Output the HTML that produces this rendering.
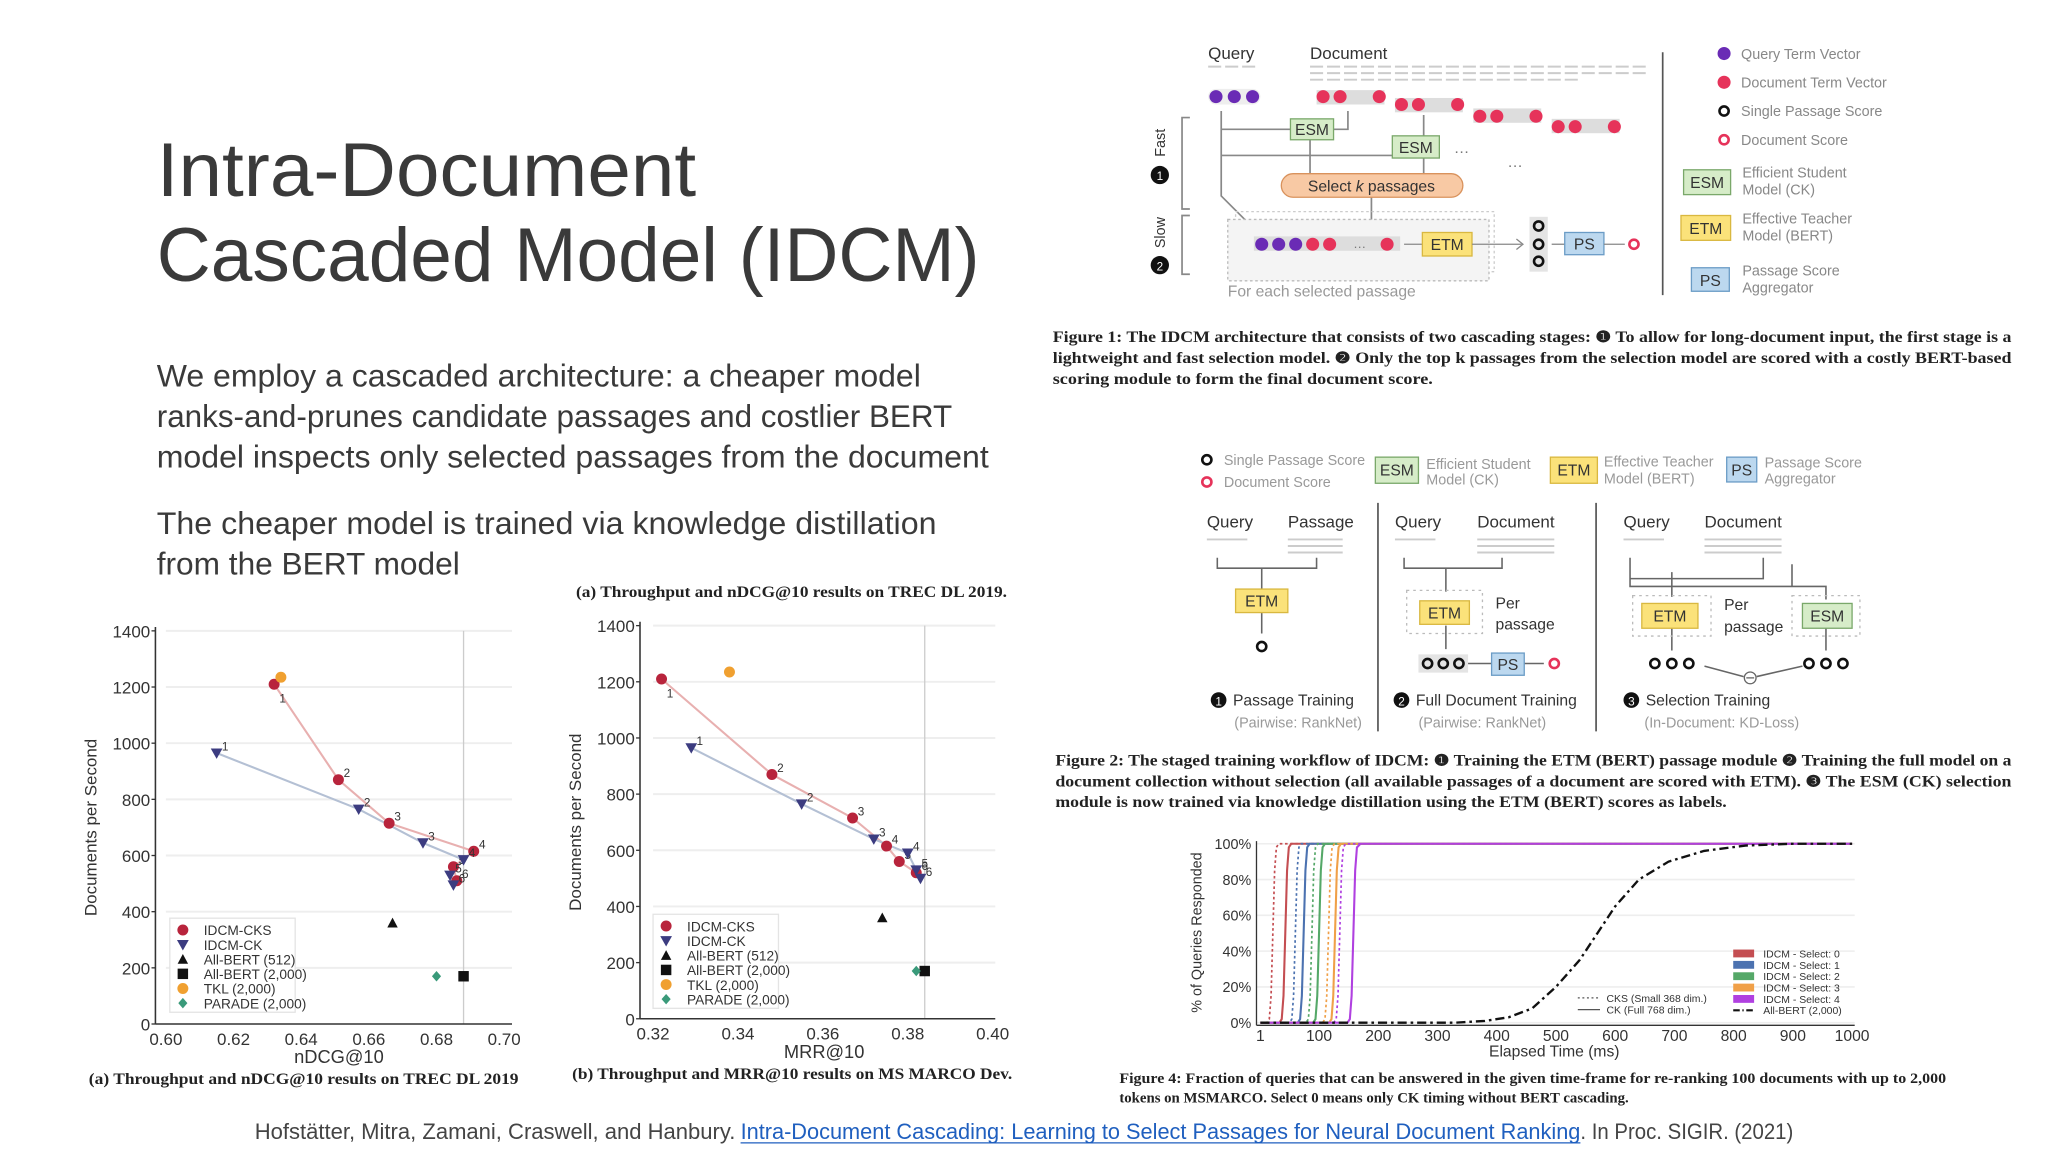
<!DOCTYPE html>
<html><head><meta charset="utf-8">
<style>
html,body{margin:0;padding:0;background:#fff;width:2048px;height:1152px;overflow:hidden}
svg{display:block}
.ss{font-family:"Liberation Sans",sans-serif}
.sf{font-family:"Liberation Serif",serif;font-weight:bold;fill:#222}
.fg{font-family:"Liberation Sans",sans-serif;fill:#777}
.tk{font-family:"Liberation Sans",sans-serif;fill:#333}
</style></head><body>
<svg id="slide" width="2048" height="1152" viewBox="0 0 1568 882" preserveAspectRatio="none" xmlns="http://www.w3.org/2000/svg">
<rect width="1568" height="882" fill="#fff"/>
<g class="ss" fill="#3a3a3a" font-size="58">
<text x="120" y="150" textLength="413" lengthAdjust="spacingAndGlyphs">Intra-Document</text>
<text x="120" y="215" textLength="630" lengthAdjust="spacingAndGlyphs">Cascaded Model (IDCM)</text>
</g>
<g class="ss" fill="#3a3a3a" font-size="24">
<text x="120" y="296" textLength="585" lengthAdjust="spacingAndGlyphs">We employ a cascaded architecture: a cheaper model</text>
<text x="120" y="327" textLength="609" lengthAdjust="spacingAndGlyphs">ranks-and-prunes candidate passages and costlier BERT</text>
<text x="120" y="358" textLength="637" lengthAdjust="spacingAndGlyphs">model inspects only selected passages from the document</text>
<text x="120" y="409" textLength="597" lengthAdjust="spacingAndGlyphs">The cheaper model is trained via knowledge distillation</text>
<text x="120" y="440" textLength="232" lengthAdjust="spacingAndGlyphs">from the BERT model</text>
</g>
<g class="ss" font-size="17" fill="#444">
<text x="195" y="872" textLength="368" lengthAdjust="spacingAndGlyphs">Hofstätter, Mitra, Zamani, Craswell, and Hanbury.</text>
<text x="567" y="872" textLength="643" lengthAdjust="spacingAndGlyphs" fill="#1f5fbf">Intra-Document Cascading: Learning to Select Passages for Neural Document Ranking</text>
<line x1="567" y1="875" x2="1210" y2="875" stroke="#1f5fbf" stroke-width="1"/>
<text x="1210" y="872" textLength="163" lengthAdjust="spacingAndGlyphs">. In Proc. SIGIR. (2021)</text>
</g>

<g id="chart1"></g>
<g id="chart2"></g>
<text class="sf" x="441" y="457" font-size="12" textLength="330" lengthAdjust="spacingAndGlyphs">(a) Throughput and nDCG@10 results on TREC DL 2019.</text>
<text class="sf" x="68" y="830" font-size="12" textLength="329" lengthAdjust="spacingAndGlyphs">(a) Throughput and nDCG@10 results on TREC DL 2019</text>
<text class="sf" x="438" y="826" font-size="12" textLength="337" lengthAdjust="spacingAndGlyphs">(b) Throughput and MRR@10 results on MS MARCO Dev.</text>

<g>
<text class="fg" x="925" y="45" font-size="13" style="fill:#333">Query</text>
<text class="fg" x="1003" y="45" font-size="13" style="fill:#333">Document</text>
<g stroke="#ccc" stroke-width="1.5" stroke-dasharray="10 3">
<line x1="1003" y1="51" x2="1262" y2="51"/><line x1="1003" y1="56" x2="1262" y2="56"/><line x1="1003" y1="61" x2="1210" y2="61"/>
<line x1="925" y1="51" x2="962" y2="51"/></g>
<rect x="925" y="68" width="40" height="12" rx="6" fill="#eee"/>
<circle cx="931" cy="74" r="5" fill="#6a2bb5"/><circle cx="945" cy="74" r="5" fill="#6a2bb5"/><circle cx="959" cy="74" r="5" fill="#6a2bb5"/>
<g fill="#e6335a">
<rect x="1008" y="69" width="52" height="11" fill="#ddd"/><circle cx="1013" cy="74" r="5"/><circle cx="1026" cy="74" r="5"/><circle cx="1056" cy="74" r="5"/>
<rect x="1068" y="75" width="52" height="11" fill="#ddd"/><circle cx="1073" cy="80" r="5"/><circle cx="1086" cy="80" r="5"/><circle cx="1116" cy="80" r="5"/>
<rect x="1128" y="83" width="52" height="11" fill="#ddd"/><circle cx="1133" cy="89" r="5"/><circle cx="1146" cy="89" r="5"/><circle cx="1176" cy="89" r="5"/>
<rect x="1188" y="91" width="52" height="11" fill="#ddd"/><circle cx="1193" cy="97" r="5"/><circle cx="1206" cy="97" r="5"/><circle cx="1236" cy="97" r="5"/>
</g>
<g stroke="#888" stroke-width="1.3" fill="none">
<path d="M935 85 V150 L965 180"/><path d="M935 99 H988 M935 119 H1066 M1032 85 V99 H1021 M1090 88 V104 M1090 121 V133 M1003 133 V107 M1050 151 V175"/>
<path d="M911 90 H905 V160 H911 M911 165 H905 V210 H911"/>
</g>
<rect x="988" y="91" width="33" height="16" fill="#d6ecc8" stroke="#7aa86a"/><text class="fg" x="1004.5" y="103.5" font-size="12" text-anchor="middle" style="fill:#333">ESM</text>
<rect x="1066" y="104" width="36" height="17" fill="#d6ecc8" stroke="#7aa86a"/><text class="fg" x="1084" y="117" font-size="12" text-anchor="middle" style="fill:#333">ESM</text>
<text class="fg" x="1113" y="117" font-size="12">…</text><text class="fg" x="1154" y="128" font-size="12">…</text>
<rect x="981" y="133" width="139" height="18" rx="9" fill="#f8c9a4" stroke="#d9925c"/>
<text class="fg" x="1050" y="146.5" font-size="12" text-anchor="middle" style="fill:#333">Select <tspan font-style="italic">k</tspan> passages</text>
<rect x="946" y="162" width="198" height="46" fill="none" stroke="#ccc" stroke-dasharray="2 2"/>
<rect x="940" y="168" width="200" height="47" fill="#f4f4f4" stroke="#bbb" stroke-dasharray="2 2"/>
<rect x="960" y="181" width="112" height="11" fill="#ddd"/>
<g fill="#6a2bb5"><circle cx="966" cy="187" r="5"/><circle cx="979" cy="187" r="5"/><circle cx="992" cy="187" r="5"/></g>
<g fill="#e6335a"><circle cx="1005" cy="187" r="5"/><circle cx="1018" cy="187" r="5"/><circle cx="1062" cy="187" r="5"/></g>
<text class="fg" x="1036" y="190" font-size="10">…</text>
<line x1="1075" y1="187" x2="1089" y2="187" stroke="#888"/>
<rect x="1089" y="178" width="38" height="18" fill="#fbe27a" stroke="#d9b840"/><text class="fg" x="1108" y="191.5" font-size="12" text-anchor="middle" style="fill:#333">ETM</text>
<line x1="1127" y1="187" x2="1165" y2="187" stroke="#888"/><path d="M1161 183 L1166 187 L1161 191" fill="none" stroke="#888"/>
<rect x="1171" y="166" width="14" height="42" fill="#e4e4e4"/>
<g fill="none" stroke="#111" stroke-width="2"><circle cx="1178" cy="173" r="3.5"/><circle cx="1178" cy="187" r="3.5"/><circle cx="1178" cy="200" r="3.5"/></g>
<line x1="1188" y1="187" x2="1198" y2="187" stroke="#888"/>
<rect x="1198" y="178" width="30" height="17" fill="#bcd8ef" stroke="#6b9cc6"/><text class="fg" x="1213" y="191" font-size="12" text-anchor="middle" style="fill:#333">PS</text>
<line x1="1228" y1="187" x2="1244" y2="187" stroke="#888"/><circle cx="1251" cy="187" r="3.5" fill="none" stroke="#e6335a" stroke-width="2"/>
<text class="fg" x="940" y="227" font-size="12" style="fill:#999">For each selected passage</text>
<circle cx="888" cy="134" r="7" fill="#111"/><text x="888" y="138" font-size="9" fill="#fff" text-anchor="middle" class="ss">1</text>
<text class="fg" transform="translate(892,120) rotate(-90)" font-size="11" style="fill:#333">Fast</text>
<circle cx="888" cy="203" r="7" fill="#111"/><text x="888" y="207" font-size="9" fill="#fff" text-anchor="middle" class="ss">2</text>
<text class="fg" transform="translate(892,190) rotate(-90)" font-size="11" style="fill:#333">Slow</text>
<line x1="1273" y1="40" x2="1273" y2="226" stroke="#555" stroke-width="1.3"/>
<g class="fg" font-size="11" style="fill:#888">
<circle cx="1320" cy="41" r="5" fill="#6a2bb5"/><text x="1333" y="45">Query Term Vector</text>
<circle cx="1320" cy="63" r="5" fill="#e6335a"/><text x="1333" y="67">Document Term Vector</text>
<circle cx="1320" cy="85" r="3.5" fill="none" stroke="#111" stroke-width="2"/><text x="1333" y="89">Single Passage Score</text>
<circle cx="1320" cy="107" r="3.5" fill="none" stroke="#e6335a" stroke-width="2"/><text x="1333" y="111">Document Score</text>
<rect x="1289" y="130" width="36" height="19" fill="#d6ecc8" stroke="#7aa86a"/><text x="1307" y="144" text-anchor="middle" style="fill:#333" font-size="12">ESM</text>
<text x="1334" y="136">Efficient Student</text><text x="1334" y="149">Model (CK)</text>
<rect x="1287" y="165" width="38" height="19" fill="#fbe27a" stroke="#d9b840"/><text x="1306" y="179" text-anchor="middle" style="fill:#333" font-size="12">ETM</text>
<text x="1334" y="171">Effective Teacher</text><text x="1334" y="184">Model (BERT)</text>
<rect x="1295" y="205" width="29" height="18" fill="#bcd8ef" stroke="#6b9cc6"/><text x="1309.5" y="219" text-anchor="middle" style="fill:#333" font-size="12">PS</text>
<text x="1334" y="211">Passage Score</text><text x="1334" y="224">Aggregator</text>
</g>
</g>
<g class="sf" font-size="12">
<text x="806" y="262" textLength="734" lengthAdjust="spacingAndGlyphs">Figure 1: The IDCM architecture that consists of two cascading stages: ❶ To allow for long-document input, the first stage is a</text>
<text x="806" y="278" textLength="734" lengthAdjust="spacingAndGlyphs">lightweight and fast selection model. ❷ Only the top k passages from the selection model are scored with a costly BERT-based</text>
<text x="806" y="294" textLength="291" lengthAdjust="spacingAndGlyphs">scoring module to form the final document score.</text>
</g>

<g class="fg" font-size="11">
<circle cx="924" cy="352" r="3.5" fill="none" stroke="#111" stroke-width="2"/><text x="937" y="356" style="fill:#999">Single Passage Score</text>
<circle cx="924" cy="369" r="3.5" fill="none" stroke="#e6335a" stroke-width="2"/><text x="937" y="373" style="fill:#999">Document Score</text>
<rect x="1053" y="350" width="33" height="20" fill="#d6ecc8" stroke="#7aa86a"/><text x="1069.5" y="364" text-anchor="middle" style="fill:#333" font-size="12">ESM</text>
<text x="1092" y="359" style="fill:#999">Efficient Student</text><text x="1092" y="371" style="fill:#999">Model (CK)</text>
<rect x="1187" y="350" width="36" height="20" fill="#fbe27a" stroke="#d9b840"/><text x="1205" y="364" text-anchor="middle" style="fill:#333" font-size="12">ETM</text>
<text x="1228" y="357" style="fill:#999">Effective Teacher</text><text x="1228" y="370" style="fill:#999">Model (BERT)</text>
<rect x="1322" y="350" width="23" height="19" fill="#bcd8ef" stroke="#6b9cc6"/><text x="1333.5" y="364" text-anchor="middle" style="fill:#333" font-size="12">PS</text>
<text x="1351" y="358" style="fill:#999">Passage Score</text><text x="1351" y="370" style="fill:#999">Aggregator</text>
<line x1="1055" y1="385" x2="1055" y2="560" stroke="#555" stroke-width="1.3"/>
<line x1="1222" y1="385" x2="1222" y2="560" stroke="#555" stroke-width="1.3"/>
<g font-size="13" style="fill:#333">
<text x="924" y="404">Query</text><text x="986" y="404">Passage</text>
<text x="1068" y="404">Query</text><text x="1131" y="404">Document</text>
<text x="1243" y="404">Query</text><text x="1305" y="404">Document</text>
</g>
<g stroke="#ccc" stroke-width="1.5"><line x1="924" y1="413" x2="955" y2="413"/><line x1="986" y1="413" x2="1028" y2="413"/><line x1="986" y1="418" x2="1028" y2="418"/><line x1="986" y1="423" x2="1028" y2="423"/>
<line x1="1068" y1="413" x2="1099" y2="413"/><line x1="1131" y1="413" x2="1190" y2="413"/><line x1="1131" y1="418" x2="1190" y2="418"/><line x1="1131" y1="423" x2="1190" y2="423"/>
<line x1="1243" y1="413" x2="1274" y2="413"/><line x1="1305" y1="413" x2="1364" y2="413"/><line x1="1305" y1="418" x2="1364" y2="418"/><line x1="1305" y1="423" x2="1364" y2="423"/></g>
<g stroke="#666" fill="none" stroke-width="1.2">
<path d="M932 427 V435 H1008 V427 M966 435 V451 M966 469 V485"/>
<path d="M1075 427 V435 H1150 V427 M1107 435 V453 M1107 479 V497 M1122 508 H1142 M1167 508 H1182"/>
<path d="M1248 427 V443 H1350 V427 M1248 443 V449 H1398 V459 M1372 432 V449 M1280 438 V457 M1280 481 V498 M1398 481 V498 M1305 510 L1335 518 M1345 518 L1380 510"/>
</g>
<rect x="946" y="451" width="40" height="18" fill="#fbe27a" stroke="#d9b840"/><text x="966" y="464.5" text-anchor="middle" style="fill:#333" font-size="12">ETM</text>
<circle cx="966" cy="495" r="3.5" fill="none" stroke="#111" stroke-width="2"/>
<rect x="1077" y="452" width="58" height="33" fill="none" stroke="#bbb" stroke-dasharray="2 3"/>
<rect x="1087" y="460" width="38" height="18" fill="#fbe27a" stroke="#d9b840"/><text x="1106" y="473.5" text-anchor="middle" style="fill:#333" font-size="12">ETM</text>
<text x="1145" y="466" font-size="12" style="fill:#333">Per</text><text x="1145" y="482" font-size="12" style="fill:#333">passage</text>
<rect x="1086" y="501" width="38" height="14" fill="#e4e4e4"/>
<g fill="none" stroke="#111" stroke-width="2"><circle cx="1093" cy="508" r="3.5"/><circle cx="1105" cy="508" r="3.5"/><circle cx="1117" cy="508" r="3.5"/>
<circle cx="1267" cy="508" r="3.5"/><circle cx="1280" cy="508" r="3.5"/><circle cx="1293" cy="508" r="3.5"/>
<circle cx="1385" cy="508" r="3.5"/><circle cx="1398" cy="508" r="3.5"/><circle cx="1411" cy="508" r="3.5"/></g>
<rect x="1142" y="500" width="25" height="17" fill="#bcd8ef" stroke="#6b9cc6"/><text x="1154.5" y="513" text-anchor="middle" style="fill:#333" font-size="12">PS</text>
<circle cx="1190" cy="508" r="3.5" fill="none" stroke="#e6335a" stroke-width="2"/>
<rect x="1250" y="456" width="60" height="31" fill="none" stroke="#bbb" stroke-dasharray="2 3"/>
<rect x="1257" y="462" width="43" height="19" fill="#fbe27a" stroke="#d9b840"/><text x="1278.5" y="476" text-anchor="middle" style="fill:#333" font-size="12">ETM</text>
<text x="1320" y="467" font-size="12" style="fill:#333">Per</text><text x="1320" y="484" font-size="12" style="fill:#333">passage</text>
<rect x="1372" y="456" width="52" height="31" fill="none" stroke="#bbb" stroke-dasharray="2 3"/>
<rect x="1380" y="462" width="38" height="19" fill="#d6ecc8" stroke="#7aa86a"/><text x="1399" y="476" text-anchor="middle" style="fill:#333" font-size="12">ESM</text>
<circle cx="1340" cy="519" r="4.5" fill="#fff" stroke="#666"/><line x1="1337" y1="519" x2="1343" y2="519" stroke="#666"/>
<g font-size="12" style="fill:#333">
<circle cx="933" cy="536" r="6" fill="#111"/><text x="933" y="540" font-size="9" style="fill:#fff" text-anchor="middle">1</text><text x="944" y="540">Passage Training</text>
<circle cx="1073" cy="536" r="6" fill="#111"/><text x="1073" y="540" font-size="9" style="fill:#fff" text-anchor="middle">2</text><text x="1084" y="540">Full Document Training</text>
<circle cx="1249" cy="536" r="6" fill="#111"/><text x="1249" y="540" font-size="9" style="fill:#fff" text-anchor="middle">3</text><text x="1260" y="540">Selection Training</text>
</g>
<text x="945" y="557" style="fill:#999">(Pairwise: RankNet)</text>
<text x="1086" y="557" style="fill:#999">(Pairwise: RankNet)</text>
<text x="1259" y="557" style="fill:#999">(In-Document: KD-Loss)</text>
</g>
<g class="sf" font-size="12">
<text x="808" y="586" textLength="732" lengthAdjust="spacingAndGlyphs">Figure 2: The staged training workflow of IDCM: ❶ Training the ETM (BERT) passage module ❷ Training the full model on a</text>
<text x="808" y="602" textLength="732" lengthAdjust="spacingAndGlyphs">document collection without selection (all available passages of a document are scored with ETM). ❸ The ESM (CK) selection</text>
<text x="808" y="618" textLength="514" lengthAdjust="spacingAndGlyphs">module is now trained via knowledge distillation using the ETM (BERT) scores as labels.</text>
</g>

<g id="chart3"></g>
<g class="sf" font-size="11">
<text x="857" y="829" textLength="633" lengthAdjust="spacingAndGlyphs">Figure 4: Fraction of queries that can be answered in the given time-frame for re-ranking 100 documents with up to 2,000</text>
<text x="857" y="844" textLength="390" lengthAdjust="spacingAndGlyphs">tokens on MSMARCO. Select 0 means only CK timing without BERT cascading.</text>
</g>
</svg>
<script>
// ---------- data: chart 1 (TREC DL 2019 nDCG@10) ----------
const c1CksX = [0.632, 0.651, 0.666, 0.691, 0.685, 0.686];
const c1CksY = [1210, 870, 715, 615, 560, 510];
const c1CkX = [0.615, 0.657, 0.676, 0.688, 0.684, 0.685];
const c1CkY = [965, 765, 645, 585, 530, 495];
const c1Others = [["bert512", 0.667, 360], ["bert2000", 0.688, 170], ["tkl", 0.634, 1235], ["parade", 0.680, 170]];
const c1XTicks = [0.60, 0.62, 0.64, 0.66, 0.68, 0.70];
const c1XLabels = ["0.60", "0.62", "0.64", "0.66", "0.68", "0.70"];
// ---------- data: chart 2 (MS MARCO MRR@10) ----------
const c2CksX = [0.322, 0.348, 0.367, 0.375, 0.378, 0.382];
const c2CksY = [1210, 870, 715, 615, 560, 520];
const c2CkX = [0.329, 0.355, 0.372, 0.380, 0.382, 0.383];
const c2CkY = [965, 765, 640, 590, 530, 500];
const c2Others = [["bert512", 0.374, 360], ["bert2000", 0.384, 170], ["tkl", 0.338, 1235], ["parade", 0.382, 170]];
const c2XTicks = [0.32, 0.34, 0.36, 0.38, 0.40];
const c2XLabels = ["0.32", "0.34", "0.36", "0.38", "0.40"];
const yTicks = [0, 200, 400, 600, 800, 1000, 1200, 1400];
const legendNames = ["IDCM-CKS", "IDCM-CK", "All-BERT (512)", "All-BERT (2,000)", "TKL (2,000)", "PARADE (2,000)"];
// ---------- data: figure 4 latency CDF ----------
const cdfPct = [0, 2, 15, 50, 85, 98, 100];
const cdfCks0 = [12, 16, 19, 22, 25, 28, 32];
const cdfCk0 = [33, 37, 40, 43, 46, 49, 53];
const cdfCks1 = [50, 54, 57, 60, 63, 66, 70];
const cdfCk1 = [64, 68, 71, 74, 77, 80, 84];
const cdfCks2 = [78, 82, 85, 88, 91, 94, 98];
const cdfCk2 = [90, 94, 97, 100, 103, 106, 110];
const cdfCks3 = [106, 110, 113, 116, 119, 122, 126];
const cdfCk3 = [117, 121, 124, 127, 130, 133, 137];
const cdfCks4 = [125, 129, 132, 135, 138, 141, 145];
const cdfCk4 = [148, 152, 155, 158, 161, 164, 170];
const allBertPct = [0, 1, 3, 8, 20, 35, 50, 65, 80, 90, 96, 99, 100];
const allBertTimes = [330, 380, 420, 460, 500, 540, 570, 600, 640, 690, 750, 820, 900];
const cdfXTicks = [1, 100, 200, 300, 400, 500, 600, 700, 800, 900, 1000];
const cdfYTicks = [0, 20, 40, 60, 80, 100];
const cdfLegend = ["IDCM - Select: 0", "IDCM - Select: 1", "IDCM - Select: 2", "IDCM - Select: 3", "IDCM - Select: 4", "All-BERT (2,000)"];

const NS = "http://www.w3.org/2000/svg";
function mk(parent, tag, attrs, text) {
  const e = document.createElementNS(NS, tag);
  for (const k in attrs) e.setAttribute(k, attrs[k]);
  if (text !== undefined) e.textContent = text;
  parent.appendChild(e);
  return e;
}
const COL = {cks: "#b8243c", ck: "#3c3c80", bert512: "#111", bert2000: "#111", tkl: "#f0a030", parade: "#3a9a7a"};
function marker(g, kind, x, y) {
  let e;
  if (kind === "cks" || kind === "tkl") e = mk(g, "circle", {cx: x, cy: y, r: 4.2, fill: COL[kind]});
  else if (kind === "ck") e = mk(g, "path", {d: `M${x-4.5} ${y-3.5} L${x+4.5} ${y-3.5} L${x} ${y+4.5} Z`, fill: COL.ck});
  else if (kind === "bert512") e = mk(g, "path", {d: `M${x-4} ${y+3.5} L${x+4} ${y+3.5} L${x} ${y-4} Z`, fill: "#111"});
  else if (kind === "bert2000") e = mk(g, "rect", {x: x-4, y: y-4, width: 8, height: 8, fill: "#111"});
  else e = mk(g, "path", {d: `M${x} ${y-4} L${x+3.5} ${y} L${x} ${y+4} L${x-3.5} ${y} Z`, fill: COL.parade});
  return e;
}

function scatter(id, o) {
  const g = document.getElementById(id);
  const sx = v => o.x0 + (v - o.xmin) / (o.xmax - o.xmin) * (o.x1 - o.x0);
  const sy = v => o.y0 - v / 1400 * (o.y0 - o.ytop);
  yTicks.forEach(t => {
    if (t > 0) {
      const gl = mk(g, "line", {x1: o.x0, x2: o.right, y1: sy(t), y2: sy(t), stroke: "#eee", "stroke-width": 1.5});
      
      
    }
    const tl = mk(g, "text", {x: o.axisX - 4, y: sy(t) + 5, "text-anchor": "end", class: "tk", "font-size": 13}, String(t));
    
    
    mk(g, "line", {x1: o.axisX - 3, x2: o.axisX, y1: sy(t), y2: sy(t), stroke: "#333"});
  });
  const vl = mk(g, "line", {x1: sx(o.vline), x2: sx(o.vline), y1: o.ytop, y2: o.y0, stroke: "#ccc"});
  
  
  mk(g, "line", {x1: o.axisX, x2: o.axisX, y1: o.ytop - 3, y2: o.y0, stroke: "#333", "stroke-width": 1.2});
  mk(g, "line", {x1: o.axisX, x2: o.right, y1: o.y0, y2: o.y0, stroke: "#333", "stroke-width": 1.2});
  o.xt.forEach((t, i) => {
    const tl = mk(g, "text", {x: sx(t), y: o.y0 + 16, "text-anchor": "middle", class: "tk", "font-size": 13}, o.xl[i]);
    
    
  });
  const xt = mk(g, "text", {x: (o.x0 + o.right) / 2, y: o.y0 + 30, "text-anchor": "middle", class: "tk", "font-size": 14}, o.xtitle);
  
  
  const yt = mk(g, "text", {transform: `translate(${o.ylabX},${(o.y0 + o.ytop) / 2}) rotate(-90)`, "text-anchor": "middle", class: "tk", "font-size": 13}, "Documents per Second");
  
  
  const cksPts = o.cksX.map((v, i) => sx(v) + "," + sy(o.cksY[i])).join(" ");
  const ckPts = o.ckX.map((v, i) => sx(v) + "," + sy(o.ckY[i])).join(" ");
  const l1 = mk(g, "polyline", {points: cksPts, fill: "none", stroke: "#e8b0b0", "stroke-width": 1.6});
  
  
  const l2 = mk(g, "polyline", {points: ckPts, fill: "none", stroke: "#b4c0d4", "stroke-width": 1.6});
  
  
  o.cksX.forEach((v, i) => {
    const m = marker(g, "cks", sx(v), sy(o.cksY[i]));
    
    
    mk(g, "text", {x: sx(v) + 4, y: sy(o.cksY[i]) + (i === 0 ? 14 : -2), "font-size": 9, class: "tk"}, String(i + 1));
  });
  o.ckX.forEach((v, i) => {
    const m = marker(g, "ck", sx(v), sy(o.ckY[i]));
    
    
    mk(g, "text", {x: sx(v) + 4, y: sy(o.ckY[i]) - 2, "font-size": 9, class: "tk"}, String(i + 1));
  });
  o.others.forEach(d => {
    const m = marker(g, d[0], sx(d[1]), sy(d[2]));
    
    
  });
  const lg = mk(g, "g", {});
  
  
  mk(lg, "rect", {x: o.lx, y: o.ly, width: 96, height: 72, fill: "#fff", stroke: "#e4e4e4"});
  const kinds = ["cks", "ck", "bert512", "bert2000", "tkl", "parade"];
  legendNames.forEach((n, i) => {
    const yy = o.ly + 9 + i * 11.2;
    marker(lg, kinds[i], o.lx + 10, yy);
    const t = mk(lg, "text", {x: o.lx + 26, y: yy + 4, "font-size": 10.5, class: "tk"}, n);
    
    
  });
}
scatter("chart1", {x0: 127, x1: 386, xmin: 0.60, xmax: 0.70, y0: 784, ytop: 483, axisX: 119, right: 392, vline: 0.688,
  cksX: c1CksX, cksY: c1CksY, ckX: c1CkX, ckY: c1CkY, others: c1Others, xt: c1XTicks, xl: c1XLabels, xtitle: "nDCG@10", ylabX: 74, lx: 130, ly: 703});
scatter("chart2", {x0: 500, x1: 760, xmin: 0.32, xmax: 0.40, y0: 780, ytop: 479, axisX: 490, right: 762, vline: 0.384,
  cksX: c2CksX, cksY: c2CksY, ckX: c2CkX, ckY: c2CkY, others: c2Others, xt: c2XTicks, xl: c2XLabels, xtitle: "MRR@10", ylabX: 445, lx: 500, ly: 700});

(function () {
  const g = document.getElementById("chart3");
  const sx = t => 965 + (t - 1) / 999 * 453;
  const sy = p => 783 - p / 100 * 137;
  cdfYTicks.forEach(p => {
    const gl = mk(g, "line", {x1: 962, x2: 1420, y1: sy(p), y2: sy(p), stroke: "#eee", "stroke-width": 1.2});
    
    
    const t = mk(g, "text", {x: 958, y: sy(p) + 4, "text-anchor": "end", class: "tk", "font-size": 11}, p + "%");
    
    
  });
  cdfXTicks.forEach(v => {
    const t = mk(g, "text", {x: sx(v), y: 797, "text-anchor": "middle", class: "tk", "font-size": 12}, String(v));
    
    
  });
  mk(g, "line", {x1: 962, x2: 962, y1: 644, y2: 785, stroke: "#333"});
  mk(g, "line", {x1: 962, x2: 1420, y1: 785, y2: 785, stroke: "#333"});
  const xt = mk(g, "text", {x: 1190, y: 809, "text-anchor": "middle", class: "tk", "font-size": 12}, "Elapsed Time (ms)");
  
  
  const yt = mk(g, "text", {transform: "translate(920,714) rotate(-90)", "text-anchor": "middle", class: "tk", "font-size": 11}, "% of Queries Responded");
  
  
  const cols = ["#c44e52", "#4c72b0", "#55a868", "#f0a048", "#b040e0"];
  const series = [[cdfCks0, cdfCk0], [cdfCks1, cdfCk1], [cdfCks2, cdfCk2], [cdfCks3, cdfCk3], [cdfCks4, cdfCk4]];
  function curve(times, pcts, color, dash, w, name) {
    const pts = [sx(1) + "," + sy(0)].concat(times.map((t, i) => sx(t) + "," + sy(pcts[i]))).concat([sx(1000) + "," + sy(100)]).join(" ");
    const l = mk(g, "polyline", {points: pts, fill: "none", stroke: color, "stroke-width": w, "stroke-dasharray": dash});
    
    
  }
  series.forEach((s, i) => {
    curve(s[0], cdfPct, cols[i], "2 2", 1.3, "cks-select-" + i + "-curve");
    curve(s[1], cdfPct, cols[i], "none", 1.6, "ck-select-" + i + "-curve");
  });
  curve(allBertTimes, allBertPct, "#111", "7 3 2 3", 1.8, "all-bert-curve");
  const lg = mk(g, "g", {});
  
  
  cdfLegend.forEach((n, i) => {
    const yy = 730 + i * 8.7;
    if (i < 5) mk(lg, "rect", {x: 1327, y: yy - 3, width: 16, height: 6, fill: cols[i]});
    else mk(lg, "line", {x1: 1327, x2: 1343, y1: yy, y2: yy, stroke: "#111", "stroke-width": 1.6, "stroke-dasharray": "5 2 1 2"});
    const t = mk(lg, "text", {x: 1350, y: yy + 3, class: "tk", "font-size": 8}, n);
    
    
  });
  mk(lg, "line", {x1: 1208, x2: 1225, y1: 764, y2: 764, stroke: "#555", "stroke-dasharray": "1.5 2"});
  mk(lg, "text", {x: 1230, y: 767, class: "tk", "font-size": 8}, "CKS (Small 368 dim.)");
  mk(lg, "line", {x1: 1208, x2: 1225, y1: 773, y2: 773, stroke: "#555"});
  mk(lg, "text", {x: 1230, y: 776, class: "tk", "font-size": 8}, "CK (Full 768 dim.)");
})();
</script>
</body></html>
